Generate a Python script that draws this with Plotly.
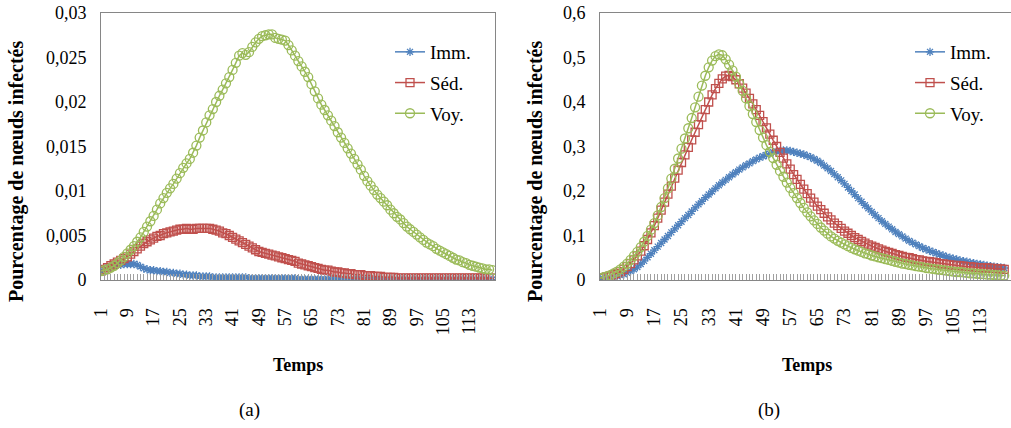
import plotly.graph_objects as go

W, H = 1011, 428

temps = list(range(1, 121))
tick_vals = list(range(1, 121, 8))
tick_text = [str(v) for v in tick_vals]
series_names = ["Imm.", "Séd.", "Voy."]

# ---- (a) ----
a_imm = [0.0010, 0.0012, 0.0014, 0.0015, 0.0016, 0.0017, 0.0017, 0.0018, 0.0018, 0.0018,
         0.0018, 0.0017, 0.0015, 0.0013, 0.0012, 0.0011, 0.0011, 0.0010, 0.0010, 0.0009,
         0.0009, 0.0008, 0.0008, 0.0007, 0.0007, 0.0006, 0.0006, 0.0005, 0.0005, 0.0005,
         0.0004, 0.0004, 0.0004, 0.0004, 0.0003, 0.0003, 0.0003, 0.0003, 0.0003, 0.0003,
         0.0003, 0.0003, 0.0003, 0.0003, 0.0003, 0.0002, 0.0002, 0.0002, 0.0002, 0.0002,
         0.0002, 0.0002, 0.0002, 0.0002, 0.0002, 0.0002, 0.0002, 0.0002, 0.0002, 0.0002,
         0.0001, 0.0001, 0.0001, 0.0001, 0.0001, 0.0001, 0.0001, 0.0001, 0.0001, 0.0001,
         0.0001, 0.0001, 0.0001, 0.0001, 0.0001, 0.0001, 0.0001, 0.0001, 0.0001, 0.0001,
         0.00005, 0.00005, 0.00005, 0.00005, 0.00005, 0.00005, 0.00005, 0.00005, 0.00005, 0.00005,
         0.00005, 0.00005, 0.00005, 0.00005, 0.00005, 0.00005, 0.00005, 0.00005, 0.00005, 0.00005,
         0.00005, 0.00005, 0.00005, 0.00005, 0.00005, 0.00005, 0.00005, 0.00005, 0.00005, 0.00005,
         0.00005, 0.00005, 0.00005, 0.00005, 0.00005, 0.00005, 0.00005, 0.00005, 0.00005, 0.00005]

a_sed = [0.0010, 0.0012, 0.0014, 0.0016, 0.0018, 0.0020, 0.0022, 0.0024, 0.0026, 0.0029,
         0.0032, 0.0035, 0.0038, 0.0041, 0.0043, 0.0045, 0.0047, 0.0049, 0.0050, 0.0052,
         0.0053, 0.0054, 0.0055, 0.0056, 0.0057, 0.0057, 0.0058, 0.0057, 0.0057, 0.0058,
         0.0058, 0.0058, 0.0058, 0.0058, 0.0057, 0.0056, 0.0055, 0.0053, 0.0052, 0.0050,
         0.0048, 0.0046, 0.0044, 0.0042, 0.0040, 0.0038, 0.0036, 0.0034, 0.0032, 0.0031,
         0.0030, 0.0029, 0.0028, 0.0027, 0.0026, 0.0025, 0.0024, 0.0023, 0.0022, 0.0021,
         0.0019, 0.0018, 0.0017, 0.0016, 0.0015, 0.0014, 0.0013, 0.0012, 0.0011, 0.0011,
         0.0010, 0.0009, 0.0009, 0.0008, 0.0008, 0.0007, 0.0007, 0.0006, 0.0006, 0.0006,
         0.0005, 0.0005, 0.0005, 0.0004, 0.0004, 0.0004, 0.0003, 0.0003, 0.0003, 0.0003,
         0.0002, 0.0002, 0.0002, 0.0002, 0.0002, 0.0002, 0.0002, 0.0002, 0.0002, 0.0002,
         0.0002, 0.0002, 0.0002, 0.0002, 0.0002, 0.0002, 0.0002, 0.0002, 0.0002, 0.0002,
         0.0002, 0.0002, 0.0002, 0.0002, 0.0002, 0.0002, 0.0002, 0.0002, 0.0002, 0.0002]

a_voy = [0.0010, 0.0011, 0.0012, 0.0014, 0.0016, 0.0019, 0.0022, 0.0026, 0.0030, 0.0034,
         0.0038, 0.0043, 0.0048, 0.0054, 0.0060, 0.0066, 0.0072, 0.0079, 0.0086, 0.0092,
         0.0098, 0.0103, 0.0108, 0.0114, 0.0120, 0.0126, 0.0131, 0.0136, 0.0143, 0.0151,
         0.0160, 0.0168, 0.0177, 0.0185, 0.0192, 0.0200, 0.0207, 0.0214, 0.0221, 0.0228,
         0.0236, 0.0244, 0.0252, 0.0255, 0.0253, 0.0256, 0.0262, 0.0267, 0.0271, 0.0274,
         0.0275, 0.0276, 0.0276, 0.0272, 0.0271, 0.0270, 0.0269, 0.0264, 0.0258, 0.0252,
         0.0246, 0.0240, 0.0234, 0.0228, 0.0220, 0.0212, 0.0204, 0.0197, 0.0191, 0.0185,
         0.0179, 0.0173, 0.0166, 0.0160, 0.0154, 0.0148, 0.0142, 0.0136, 0.0130, 0.0124,
         0.0117, 0.0111, 0.0106, 0.0101, 0.0096, 0.0092, 0.0088, 0.0084, 0.0079, 0.0075,
         0.0071, 0.0068, 0.0064, 0.0060, 0.0057, 0.0054, 0.0051, 0.0048, 0.0045, 0.0042,
         0.0040, 0.0038, 0.0035, 0.0033, 0.0031, 0.0029, 0.0027, 0.0025, 0.0023, 0.0022,
         0.0020, 0.0019, 0.0017, 0.0016, 0.0015, 0.0014, 0.0013, 0.0012, 0.0012, 0.0011]

# ---- (b) ----
b_imm = [0.002, 0.003, 0.004, 0.005, 0.007, 0.009, 0.011, 0.013, 0.016, 0.020,
         0.024, 0.029, 0.036, 0.043, 0.051, 0.059, 0.067, 0.075, 0.083, 0.091,
         0.099, 0.107, 0.115, 0.123, 0.131, 0.139, 0.146, 0.154, 0.162, 0.170,
         0.177, 0.185, 0.192, 0.199, 0.206, 0.213, 0.219, 0.225, 0.231, 0.237,
         0.242, 0.248, 0.253, 0.258, 0.262, 0.267, 0.271, 0.275, 0.278, 0.281,
         0.284, 0.287, 0.289, 0.290, 0.291, 0.291, 0.290, 0.288, 0.286, 0.284,
         0.282, 0.279, 0.276, 0.272, 0.268, 0.263, 0.257, 0.251, 0.245, 0.238,
         0.231, 0.224, 0.216, 0.208, 0.200, 0.192, 0.184, 0.176, 0.168, 0.161,
         0.153, 0.146, 0.139, 0.132, 0.126, 0.120, 0.114, 0.108, 0.103, 0.098,
         0.093, 0.088, 0.084, 0.080, 0.076, 0.072, 0.069, 0.066, 0.063, 0.060,
         0.057, 0.055, 0.052, 0.050, 0.048, 0.046, 0.044, 0.042, 0.041, 0.039,
         0.038, 0.036, 0.035, 0.034, 0.032, 0.031, 0.030, 0.029, 0.028, 0.027]

b_sed = [0.004, 0.005, 0.007, 0.009, 0.012, 0.015, 0.019, 0.024, 0.030, 0.037,
         0.045, 0.054, 0.065, 0.077, 0.091, 0.106, 0.122, 0.139, 0.157, 0.175,
         0.193, 0.211, 0.229, 0.247, 0.264, 0.281, 0.298, 0.315, 0.332, 0.349,
         0.366, 0.383, 0.400, 0.416, 0.430, 0.442, 0.452, 0.458, 0.460, 0.457,
         0.450, 0.441, 0.431, 0.420, 0.408, 0.396, 0.383, 0.370, 0.356, 0.342,
         0.328, 0.314, 0.300, 0.287, 0.274, 0.261, 0.249, 0.237, 0.226, 0.215,
         0.204, 0.194, 0.184, 0.175, 0.166, 0.158, 0.150, 0.142, 0.135, 0.128,
         0.122, 0.116, 0.110, 0.105, 0.100, 0.095, 0.091, 0.087, 0.083, 0.079,
         0.076, 0.073, 0.070, 0.067, 0.064, 0.062, 0.060, 0.057, 0.055, 0.053,
         0.051, 0.050, 0.048, 0.046, 0.045, 0.043, 0.042, 0.041, 0.040, 0.039,
         0.037, 0.036, 0.035, 0.034, 0.033, 0.033, 0.032, 0.031, 0.030, 0.030,
         0.029, 0.028, 0.028, 0.027, 0.027, 0.026, 0.026, 0.025, 0.025, 0.024]

b_voy = [0.004, 0.006, 0.008, 0.011, 0.015, 0.019, 0.024, 0.030, 0.037, 0.045,
         0.054, 0.063, 0.074, 0.086, 0.099, 0.113, 0.128, 0.145, 0.164, 0.184,
         0.206, 0.228, 0.250, 0.273, 0.295, 0.318, 0.341, 0.364, 0.388, 0.412,
         0.437, 0.459, 0.478, 0.493, 0.503, 0.507, 0.505, 0.496, 0.484, 0.471,
         0.457, 0.441, 0.425, 0.408, 0.391, 0.373, 0.355, 0.337, 0.320, 0.303,
         0.288, 0.274, 0.259, 0.245, 0.232, 0.219, 0.207, 0.195, 0.184, 0.173,
         0.162, 0.152, 0.143, 0.134, 0.126, 0.118, 0.111, 0.104, 0.098, 0.093,
         0.088, 0.084, 0.080, 0.076, 0.072, 0.069, 0.066, 0.063, 0.060, 0.058,
         0.055, 0.053, 0.051, 0.049, 0.047, 0.045, 0.043, 0.041, 0.039, 0.037,
         0.036, 0.034, 0.033, 0.031, 0.030, 0.029, 0.027, 0.026, 0.025, 0.024,
         0.023, 0.022, 0.021, 0.020, 0.019, 0.018, 0.018, 0.017, 0.016, 0.015,
         0.015, 0.014, 0.013, 0.013, 0.012, 0.012, 0.011, 0.011, 0.010, 0.010]

y_title = "Pourcentage de nœuds infectés"
x_title = "Temps"
panel_labels = ["(a)", "(b)"]

COLORS = ["#4F81BD", "#C0504D", "#9BBB59"]
SYMBOLS = ["asterisk-open", "square-open", "circle-open"]
SIZES = [7, 8, 9]
FONT = "Liberation Serif, Times New Roman, serif"
GRAY = "#868686"


def px_x(p):
    return p / W


def px_y(p):
    return 1 - p / H


fig = go.Figure()

panels = [
    (a_imm, a_sed, a_voy, "x", "y", "legend"),
    (b_imm, b_sed, b_voy, "x2", "y2", "legend2"),
]
for (imm, sed, voy, xa, ya, lg) in panels:
    for i, vals in enumerate([imm, sed, voy]):
        fig.add_trace(go.Scatter(
            x=temps, y=vals, xaxis=xa, yaxis=ya, name=series_names[i],
            mode="lines+markers", legend=lg, legendgroup=lg + str(i),
            line=dict(color=COLORS[i], width=1.5),
            marker=dict(symbol=SYMBOLS[i], size=SIZES[i], color=COLORS[i],
                        line=dict(color=COLORS[i], width=1.3)),
        ))

top, bottom = 13, 280
axis_common = dict(showline=True, linecolor=GRAY, linewidth=1, mirror=True,
                   showgrid=False, zeroline=False, automargin=False)
xaxis_common = dict(axis_common, tickmode="array", tickvals=tick_vals, ticktext=tick_text,
                    tickangle=-90, ticks="inside", ticklen=6, tickcolor="#A0A0A0",
                    minor=dict(ticks="inside", dtick=1, tick0=1, ticklen=6, tickcolor="#A0A0A0"),
                    tickfont=dict(family=FONT, size=18, color="#000"),
                    ticklabelstandoff=20)
yaxis_common = dict(axis_common, ticks="", tickfont=dict(family=FONT, size=18, color="#000"),
                    ticklabelstandoff=10)

fig.update_layout(
    template="none",
    width=W, height=H,
    margin=dict(l=0, r=0, t=0, b=0, autoexpand=False),
    paper_bgcolor="white", plot_bgcolor="white",
    separators=", ",
    showlegend=True,
    xaxis=dict(xaxis_common, domain=[px_x(101), px_x(495)], range=[1, 120.8], anchor="y"),
    yaxis=dict(yaxis_common, domain=[px_y(bottom), px_y(top)], range=[0, 0.03], dtick=0.005, anchor="x"),
    xaxis2=dict(xaxis_common, domain=[px_x(600), 1.0], range=[1, 122], anchor="y2"),
    yaxis2=dict(yaxis_common, domain=[px_y(bottom), px_y(top)], range=[0, 0.6], dtick=0.1, anchor="x2"),
    legend=dict(x=px_x(390), y=px_y(33), xanchor="left", yanchor="top",
                font=dict(family=FONT, size=19, color="#000"), tracegroupgap=3,
                bgcolor="rgba(0,0,0,0)"),
    legend2=dict(x=px_x(910), y=px_y(33), xanchor="left", yanchor="top",
                 font=dict(family=FONT, size=19, color="#000"), tracegroupgap=3,
                 bgcolor="rgba(0,0,0,0)"),
)

annots = []
for cx in [17, 536]:
    annots.append(dict(text="<b>" + y_title + "</b>", x=px_x(cx), y=px_y(172), xref="paper", yref="paper",
                       textangle=-90, showarrow=False, xanchor="center", yanchor="middle",
                       font=dict(family=FONT, size=20, color="#000")))
for cx in [298, 807]:
    annots.append(dict(text="<b>" + x_title + "</b>", x=px_x(cx), y=px_y(365), xref="paper", yref="paper",
                       showarrow=False, xanchor="center", yanchor="middle",
                       font=dict(family=FONT, size=18, color="#000")))
for cx, lab in zip([249, 769], panel_labels):
    annots.append(dict(text=lab, x=px_x(cx), y=px_y(410), xref="paper", yref="paper",
                       showarrow=False, xanchor="center", yanchor="middle",
                       font=dict(family=FONT, size=19, color="#000")))
fig.update_layout(annotations=annots)

fig.write_html("out.html",
               config={"displayModeBar": False},
               post_script="document.body.style.margin='0';document.body.style.padding='0';"
                           "document.body.style.overflow='hidden';")
